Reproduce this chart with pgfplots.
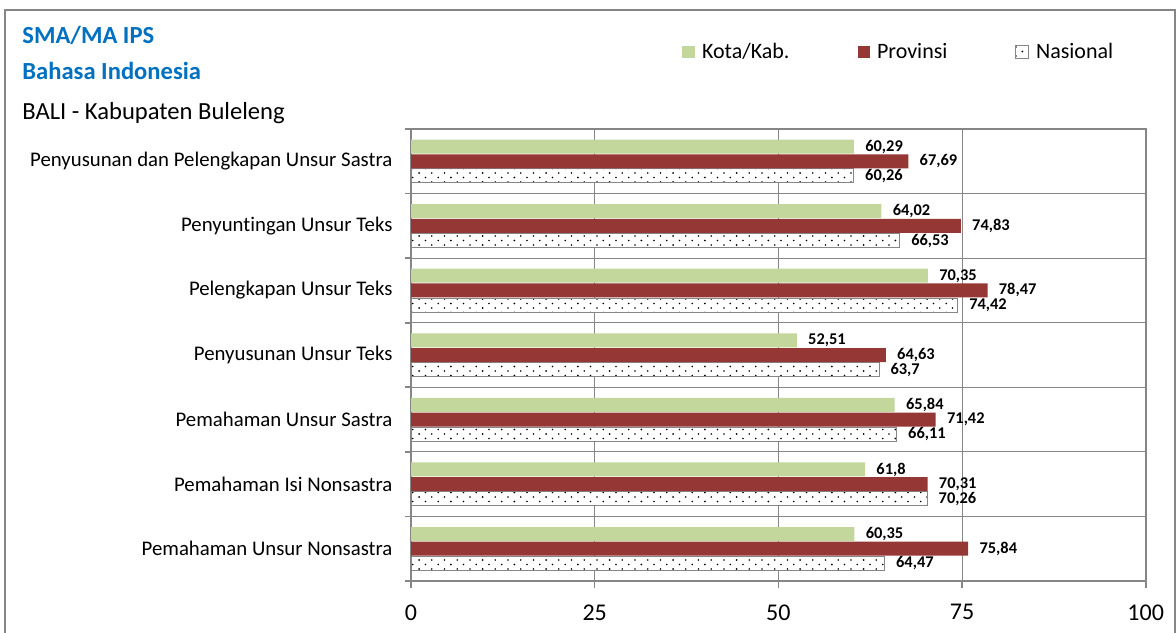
\documentclass[border=0pt]{standalone}
\usepackage{pgfplots}
\pgfplotsset{compat=1.18}
\usepackage{fontspec}
\setmainfont[Ligatures=NoCommon]{Carlito}
\usetikzlibrary{patterns}

\definecolor{kota}{RGB}{195,214,155}
\definecolor{prov}{RGB}{149,55,53}
\definecolor{judul}{RGB}{0,112,192}
\definecolor{garis}{RGB}{134,134,134}

% sparse staggered dots like the spreadsheet fill
\pgfdeclarepatternformonly{titik}{\pgfqpoint{-0.5pt}{-0.5pt}}{\pgfqpoint{3.7pt}{2.8pt}}{\pgfqpoint{6.35pt}{4.5pt}}{%
  \pgfpathcircle{\pgfqpoint{0pt}{0pt}}{0.45pt}
  \pgfpathcircle{\pgfqpoint{3.175pt}{2.25pt}}{0.45pt}
  \pgfusepath{fill}}

\begin{document}
\begin{tikzpicture}[x=0.5pt,y=0.5pt]
\useasboundingbox (0,0) rectangle (1176,632);
\draw[garis, line width=0.6pt] (5,-5) rectangle (1175,622);

\begin{axis}[
    at={(205.5pt,25.5pt)}, anchor=south west,
    scale only axis,
    width=367.35pt, height=226pt,
    xbar,
    bar width=7pt,
    xmin=0, xmax=100,
    ymin=-0.5, ymax=6.5,
    xtick={0,25,50,75,100},
    ytick={-0.5,0.5,...,6.5},
    yticklabels={},
    extra y ticks={0,1,2,3,4,5,6},
    extra y tick labels={
        Pemahaman Unsur Nonsastra,
        Pemahaman Isi Nonsastra,
        Pemahaman Unsur Sastra,
        Penyusunan Unsur Teks,
        Pelengkapan Unsur Teks,
        Penyuntingan Unsur Teks,
        Penyusunan dan Pelengkapan Unsur Sastra},
    extra y tick style={grid=none, tick style={draw=none}},
    xtick pos=bottom, ytick pos=left,
    xmajorgrids, ymajorgrids,
    grid style={garis, line width=0.5pt},
    axis line style={garis, line width=0.8pt},
    tick style={garis, line width=0.8pt},
    tick align=outside,
    major tick length=3.25pt,
    xticklabel style={font=\fontsize{12}{14}\selectfont, yshift=-5pt},
    yticklabel style={font=\fontsize{10.4}{12}\selectfont, xshift=-2.5pt},
    /pgf/number format/.cd, use comma, fixed, precision=2, assume math mode=true,
    /pgfplots/.cd,
    point meta=x,
    nodes near coords,
    nodes near coords style={font=\bfseries\fontsize{8.2}{9}\selectfont,
        anchor=west, inner sep=0pt, xshift=5.5pt, text=black},
    legend style={draw=none, fill=none, legend columns=3,
        at={(0.3607,1.1704)}, anchor=west,
        font=\fontsize{11}{13}\selectfont,
        /tikz/every odd column/.append style={column sep=1.5pt},
        /tikz/every even column/.append style={column sep=32pt}},
    reverse legend,
    legend image code/.code={\path[#1] (0pt,-3.2pt) rectangle (6.3pt,3.2pt);},
]

% Nasional
\addplot[fill=white, draw=garis, line width=0.5pt, postaction={pattern=titik},
    bar shift=-7.35pt] coordinates {
    (64.47,0) (70.26,1) (66.11,2) (63.7,3) (74.42,4) (66.53,5) (60.26,6)
};

% Provinsi
\addplot[fill=prov, draw=none, bar shift=0pt] coordinates {
    (75.84,0) (70.31,1) (71.42,2) (64.63,3) (78.47,4) (74.83,5) (67.69,6)
};

% Kota/Kab.
\addplot[fill=kota, draw=none, bar shift=7.35pt] coordinates {
    (60.35,0) (61.8,1) (65.84,2) (52.51,3) (70.35,4) (64.02,5) (60.29,6)
};

\legend{Nasional, Provinsi, Kota/Kab.}
\end{axis}

\node[anchor=base west, inner sep=0pt, text=judul,
    font=\bfseries\fontsize{12.3}{14}\selectfont] at (22,632-43.3) {SMA/MA IPS};
\node[anchor=base west, inner sep=0pt, text=judul,
    font=\bfseries\fontsize{12.3}{14}\selectfont] at (22,632-79.3) {Bahasa Indonesia};
\node[anchor=base west, inner sep=0pt,
    font=\fontsize{12.3}{14}\selectfont] at (22,632-120) {BALI - Kabupaten Buleleng};
\end{tikzpicture}
\end{document}
